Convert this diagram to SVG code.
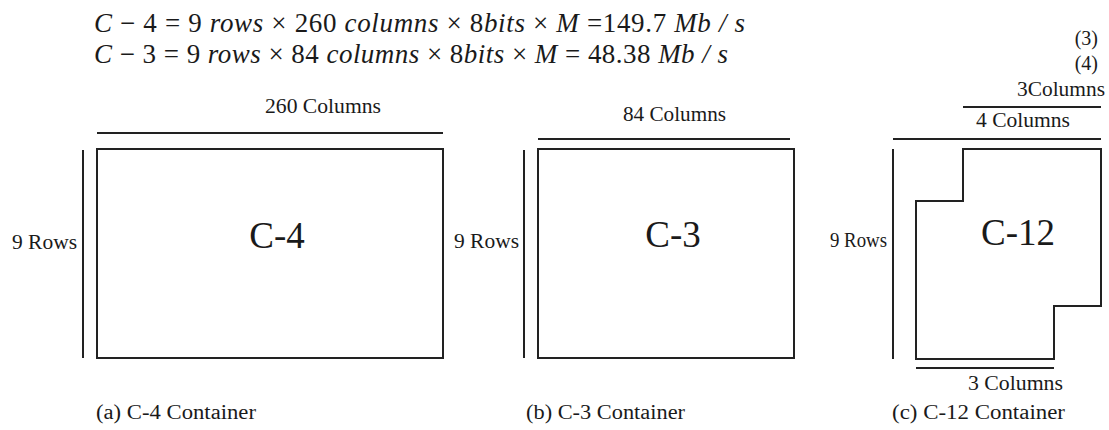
<svg xmlns="http://www.w3.org/2000/svg" width="1109" height="430" viewBox="0 0 1109 430">
<defs>
<style>
.eq{font-size:27px}
.i{font-style:italic}
.lbl{font-size:20px}
.big{font-size:37px}
.cap{font-size:20px}
.ln{stroke:#222;stroke-width:2;fill:none}
.box{stroke:#222;stroke-width:2;fill:#fff}
</style>
</defs>
<rect width="1109" height="430" fill="#fff"/>
<g id="equations" fill="#1a1a1a">
<text class="eq" style="font-family:'Liberation Serif',serif" x="94" y="32" textLength="651" lengthAdjust="spacing"><tspan class="i">C</tspan> − 4 = 9 <tspan class="i">rows</tspan> × 260 <tspan class="i">columns</tspan> × 8<tspan class="i">bits</tspan> × <tspan class="i">M</tspan> =149.7 <tspan class="i">Mb / s</tspan></text>
<text class="eq" style="font-family:'Liberation Serif',serif" x="94" y="63" textLength="634" lengthAdjust="spacing"><tspan class="i">C</tspan> − 3 = 9 <tspan class="i">rows</tspan> × 84 <tspan class="i">columns</tspan> × 8<tspan class="i">bits</tspan> × <tspan class="i">M</tspan> = 48.38 <tspan class="i">Mb / s</tspan></text>
<text class="lbl" style="font-family:'Liberation Serif',serif" x="1098" y="45" text-anchor="end">(3)</text>
<text class="lbl" style="font-family:'Liberation Serif',serif" x="1098" y="70" text-anchor="end">(4)</text>
</g>
<g id="c4" fill="#1a1a1a">
<rect class="box" x="97" y="149" width="346" height="209"/>
<text class="big" style="font-family:'Liberation Serif',serif" x="277" y="248" text-anchor="middle">C-4</text>
</g>
<g id="c3" fill="#1a1a1a">
<rect class="box" x="538" y="149" width="256" height="209"/>
<text class="big" style="font-family:'Liberation Serif',serif" x="673" y="247" text-anchor="middle">C-3</text>
</g>
<g id="c12" fill="#1a1a1a">
<path class="box" d="M963,149 H1101 V306 H1054 V359 H916 V201 H963 Z"/>
<text class="big" style="font-family:'Liberation Serif',serif" x="1018" y="245" text-anchor="middle">C-12</text>
</g>
<g id="connectors">
<line class="ln" x1="97" y1="133" x2="443" y2="133"/>
<line class="ln" x1="83" y1="150" x2="83" y2="358"/>
<line class="ln" x1="538" y1="139" x2="790" y2="139"/>
<line class="ln" x1="524" y1="150" x2="524" y2="358"/>
<line class="ln" x1="963" y1="107" x2="1101" y2="107"/>
<line class="ln" x1="893" y1="139" x2="1101" y2="139"/>
<line class="ln" x1="893" y1="149" x2="893" y2="359"/>
<line class="ln" x1="916" y1="368" x2="1054" y2="368"/>
</g>
<g id="labels" fill="#1a1a1a">
<text class="lbl" style="font-family:'Liberation Serif',serif" x="265" y="113" textLength="116" lengthAdjust="spacingAndGlyphs">260 Columns</text>
<text class="lbl" style="font-family:'Liberation Serif',serif" x="12" y="249" textLength="65" lengthAdjust="spacingAndGlyphs">9 Rows</text>
<text class="lbl" style="font-family:'Liberation Serif',serif" x="623" y="121" textLength="103" lengthAdjust="spacingAndGlyphs">84 Columns</text>
<text class="lbl" style="font-family:'Liberation Serif',serif" x="454" y="248" textLength="65" lengthAdjust="spacingAndGlyphs">9 Rows</text>
<text class="lbl" style="font-family:'Liberation Serif',serif" x="1017" y="96" textLength="88" lengthAdjust="spacingAndGlyphs">3Columns</text>
<text class="lbl" style="font-family:'Liberation Serif',serif" x="976" y="127" textLength="94" lengthAdjust="spacingAndGlyphs">4 Columns</text>
<text class="lbl" style="font-family:'Liberation Serif',serif" x="830" y="247" textLength="57" lengthAdjust="spacingAndGlyphs">9 Rows</text>
<text class="lbl" style="font-family:'Liberation Serif',serif" x="968" y="390" textLength="95" lengthAdjust="spacingAndGlyphs">3 Columns</text>
</g>
<g id="captions" fill="#1a1a1a">
<text class="cap" style="font-family:'Liberation Serif',serif" x="96" y="419" textLength="160" lengthAdjust="spacingAndGlyphs">(a) C-4 Container</text>
<text class="cap" style="font-family:'Liberation Serif',serif" x="526" y="419" textLength="159" lengthAdjust="spacingAndGlyphs">(b) C-3 Container</text>
<text class="cap" style="font-family:'Liberation Serif',serif" x="892" y="419" textLength="173" lengthAdjust="spacingAndGlyphs">(c) C-12 Container</text>
</g>
</svg>
